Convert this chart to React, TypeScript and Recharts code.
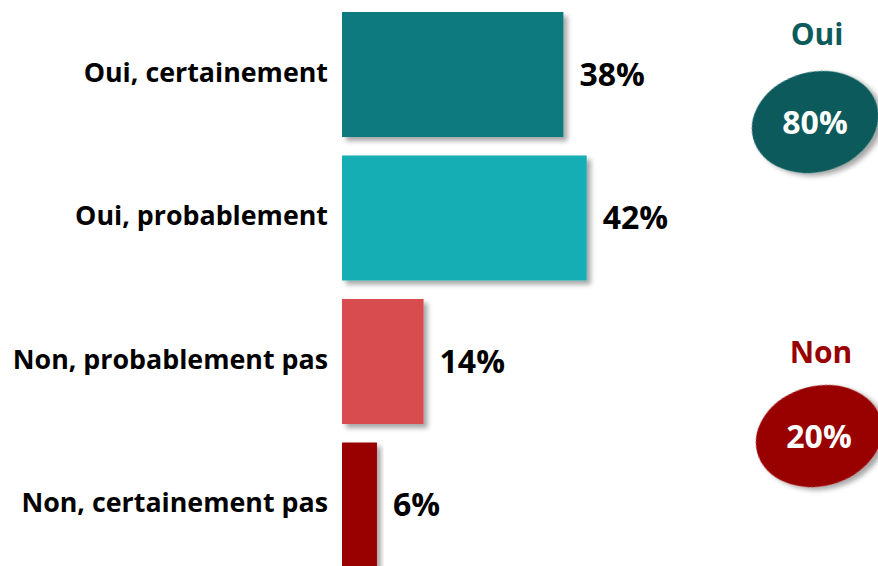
import React from 'react';
import { BarChart, Bar, XAxis, YAxis, Cell, LabelList, Customized } from 'recharts';

const categories = ['Oui, certainement', 'Oui, probablement', 'Non, probablement pas', 'Non, certainement pas'];
const shares = [38, 42, 14, 6];
const barColors = ['#0f7a80', '#13aeb5', '#d84b4f', '#990000'];

const groupNames = ['Oui', 'Non'];
const groupTotals = [80, 20];
const groupColors = ['#0c5a5c', '#990000'];

const data = categories.map((name, i) => ({ name, value: shares[i] }));

const FONT = '"Open Sans", "Noto Sans", sans-serif';

function CategoryTick(props: any) {
  const { x, y, payload } = props;
  return (
    <text x={x - 6} y={y} dy={7} textAnchor="end" fontFamily={FONT} fontWeight={700} fontSize={26.8} fill="#000">
      {payload.value}
    </text>
  );
}

// the two summary badges on the right
function Badges() {
  const spots = [
    { cx: 815, cy: 122, titleY: 45 },
    { cx: 819, cy: 436, titleY: 363 },
  ];
  return (
    <g>
      {spots.map((s, i) => (
        <g key={groupNames[i]}>
          <text x={s.cx + 2} y={s.titleY} textAnchor="middle" fontFamily={FONT} fontWeight={700} fontSize={30} fill={groupColors[i]}>
            {groupNames[i]}
          </text>
          <ellipse
            cx={s.cx}
            cy={s.cy}
            rx={64}
            ry={50}
            transform={`rotate(-15 ${s.cx} ${s.cy})`}
            fill={groupColors[i]}
            filter="url(#softShadow)"
          />
          <text x={s.cx} y={s.cy + 12} textAnchor="middle" fontFamily={FONT} fontWeight={700} fontSize={32} fill="#fff">
            {groupTotals[i]}%
          </text>
        </g>
      ))}
    </g>
  );
}

export default function App() {
  return (
    <div style={{ position: 'absolute', left: 0, top: 0, width: 878, height: 566, overflow: 'hidden', background: '#fff' }}>
      <svg width={0} height={0} style={{ position: 'absolute' }}>
        <defs>
          <filter id="softShadow" x="-20%" y="-20%" width="140%" height="140%">
            <feDropShadow dx={4} dy={4} stdDeviation={2.5} floodColor="#000" floodOpacity={0.35} />
          </filter>
        </defs>
      </svg>
      <BarChart
        layout="vertical"
        width={878}
        height={577}
        data={data}
        margin={{ top: 3, right: 0, bottom: 0, left: 0 }}
        barSize={125}
      >
        <XAxis type="number" domain={[0, 92]} hide />
        <YAxis
          type="category"
          dataKey="name"
          width={342}
          axisLine={false}
          tickLine={false}
          tick={<CategoryTick />}
          interval={0}
        />
        <Bar dataKey="value" isAnimationActive={false} filter="url(#softShadow)">
          {data.map((d, i) => (
            <Cell key={d.name} fill={barColors[i]} />
          ))}
          <LabelList
            dataKey="value"
            position="right"
            offset={16}
            formatter={(v: any) => `${v}%`}
            style={{ fontFamily: FONT, fontWeight: 700, fontSize: 32, fill: '#000' }}
          />
        </Bar>
        <Customized component={<Badges />} />
      </BarChart>
    </div>
  );
}
